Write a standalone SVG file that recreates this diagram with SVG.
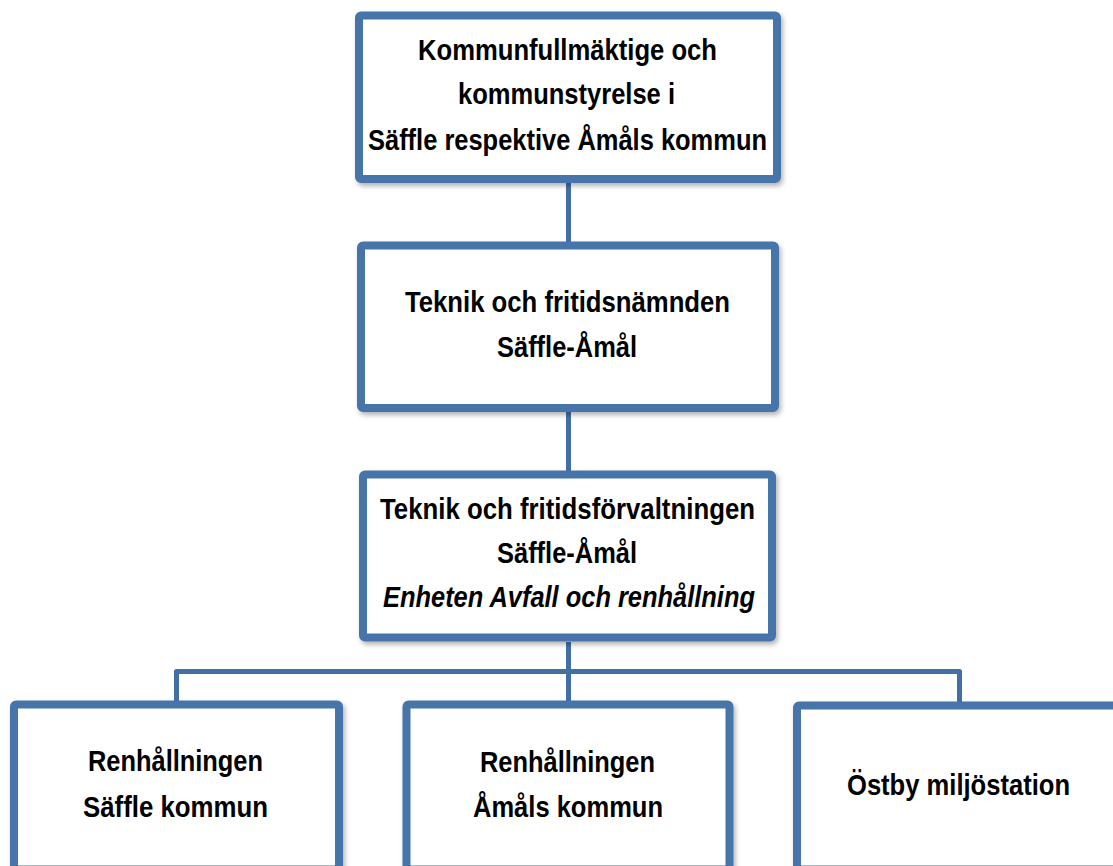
<svg xmlns="http://www.w3.org/2000/svg" width="1113" height="866" viewBox="0 0 1113 866">
<defs>
<filter id="sh" x="-5%" y="-5%" width="112%" height="120%">
<feDropShadow dx="2" dy="3" stdDeviation="2.5" flood-color="#000" flood-opacity="0.3"/>
</filter>
<style>
.box{fill:#fff;stroke:#4775AA;stroke-width:8;filter:url(#sh)}
.con{fill:none;stroke:#4270A6;stroke-width:5;stroke-linejoin:round}
.t{font-family:"Liberation Sans Narrow","Liberation Sans",Arial,sans-serif;font-weight:bold;font-size:30px;fill:#000;text-anchor:middle}
.i{font-style:italic}
</style>
</defs>
<rect width="1113" height="866" fill="#fff"/>
<g id="connectors">
<path class="con" d="M568.5 183 V242"/>
<path class="con" d="M568.5 412 V471"/>
<path class="con" d="M568.5 642 V701"/>
<path class="con" d="M176.5 701 V671.5 H959.5 V702"/>
</g>
<g id="n1">
<rect class="box" x="359" y="15.5" width="418" height="163.5" rx="2"/>
<text class="t" x="567.5" y="60" textLength="299" lengthAdjust="spacingAndGlyphs">Kommunfullmäktige och</text>
<text class="t" x="566.5" y="104" textLength="217" lengthAdjust="spacingAndGlyphs">kommunstyrelse i</text>
<text class="t" x="567.5" y="150" textLength="399" lengthAdjust="spacingAndGlyphs">Säffle respektive Åmåls kommun</text>
</g>
<g id="n2">
<rect class="box" x="361" y="245.5" width="414" height="162.5" rx="2"/>
<text class="t" x="567.5" y="312" textLength="325" lengthAdjust="spacingAndGlyphs">Teknik och fritidsnämnden</text>
<text class="t" x="567" y="357" textLength="140" lengthAdjust="spacingAndGlyphs">Säffle-Åmål</text>
</g>
<g id="n3">
<rect class="box" x="363" y="474.5" width="409" height="163" rx="2"/>
<text class="t" x="567.5" y="519" textLength="375" lengthAdjust="spacingAndGlyphs">Teknik och fritidsförvaltningen</text>
<text class="t" x="567" y="563" textLength="140" lengthAdjust="spacingAndGlyphs">Säffle-Åmål</text>
<text class="t i" x="569" y="607" textLength="372" lengthAdjust="spacingAndGlyphs">Enheten Avfall och renhållning</text>
</g>
<g id="n4">
<rect class="box" x="14" y="704.5" width="325" height="165" rx="2"/>
<text class="t" x="175.5" y="771" textLength="175" lengthAdjust="spacingAndGlyphs">Renhållningen</text>
<text class="t" x="175.5" y="817" textLength="185" lengthAdjust="spacingAndGlyphs">Säffle kommun</text>
</g>
<g id="n5">
<rect class="box" x="406.5" y="704.5" width="323" height="165" rx="2"/>
<text class="t" x="567.5" y="772" textLength="175" lengthAdjust="spacingAndGlyphs">Renhållningen</text>
<text class="t" x="568" y="817" textLength="190" lengthAdjust="spacingAndGlyphs">Åmåls kommun</text>
</g>
<g id="n6">
<rect class="box" x="797" y="705.5" width="330" height="164" rx="2"/>
<text class="t" x="958.5" y="795" textLength="223" lengthAdjust="spacingAndGlyphs">Östby miljöstation</text>
</g>
</svg>
